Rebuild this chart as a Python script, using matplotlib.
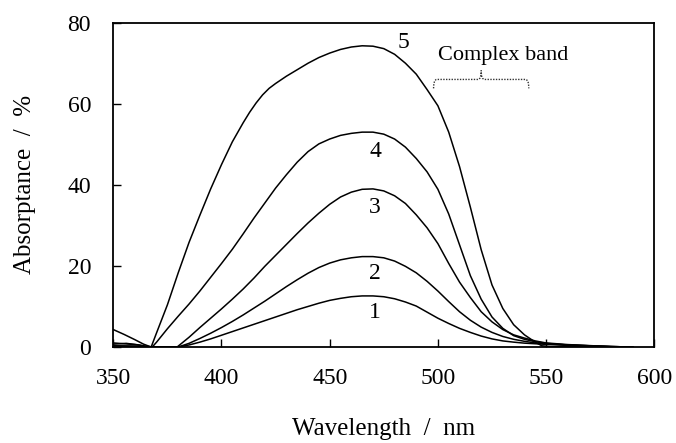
import numpy as np
import matplotlib
matplotlib.use("Agg")
import matplotlib.pyplot as plt
from matplotlib.path import Path
from matplotlib.patches import PathPatch

plt.rcParams.update({
    "font.family": "serif",
    "font.serif": ["Liberation Serif", "DejaVu Serif"],
    "mathtext.fontset": "stix",
})

# absorption spectra, wavelength (nm) vs absorptance (%)
wl_1 = [350, 360, 366, 380, 385, 390, 395, 400, 405, 410, 415, 420, 425, 430, 435,
        440, 445, 450, 455, 460, 465, 470, 475, 480, 485, 490, 495, 500, 505, 510,
        515, 520, 525, 530, 535, 540, 545, 550, 560, 570, 580, 590]
ab_1 = [0.3, 0.2, 0.0, 0.0, 0.5, 1.2, 2.0, 2.9, 3.8, 4.7, 5.6, 6.5, 7.4, 8.3, 9.2,
        10.0, 10.8, 11.5, 12.0, 12.4, 12.6, 12.6, 12.4, 11.9, 11.1, 10.1, 8.6, 7.1, 5.8, 4.6,
        3.6, 2.7, 2.0, 1.5, 1.2, 0.95, 0.8, 0.65, 0.4, 0.25, 0.1, 0.0]

wl_2 = [350, 360, 366, 380, 385, 390, 395, 400, 405, 410, 415, 420, 425, 430, 435,
        440, 445, 450, 455, 460, 465, 470, 475, 480, 485, 490, 495, 500, 505, 510,
        515, 520, 525, 530, 535, 540, 545, 550, 560, 570, 580, 590]
ab_2 = [0.3, 0.2, 0.0, 0.0, 0.9, 2.1, 3.4, 4.8, 6.3, 7.9, 9.6, 11.3, 13.1, 14.9, 16.6,
        18.2, 19.6, 20.7, 21.5, 22.0, 22.3, 22.3, 22.0, 21.2, 19.9, 18.3, 16.2, 13.8, 11.2, 8.7,
        6.6, 4.9, 3.6, 2.6, 1.9, 1.4, 1.0, 0.8, 0.5, 0.3, 0.1, 0.0]

wl_3 = [350, 356, 362, 366, 379.5, 385, 390, 395, 400, 405, 410, 415, 420, 425, 430,
        435, 440, 445, 450, 455, 460, 465, 470, 475, 480, 485, 490, 495, 500, 505,
        510, 515, 520, 525, 530, 535, 540, 545, 550, 560, 570, 580, 590]
ab_3 = [0.7, 0.9, 0.5, 0.0, 0.0, 2.4, 4.8, 7.1, 9.4, 11.8, 14.3, 17.0, 19.9, 22.6, 25.3,
        28.0, 30.6, 33.0, 35.2, 37.0, 38.2, 38.9, 39.0, 38.5, 37.3, 35.4, 32.6, 29.4, 25.5, 20.6,
        16.0, 12.2, 8.7, 6.2, 4.3, 3.0, 2.2, 1.5, 1.0, 0.6, 0.35, 0.1, 0.0]

wl_4 = [350, 355, 360, 364, 368, 370, 375, 380, 385, 390, 395, 400, 405, 410, 415,
        420, 425, 430, 435, 440, 445, 450, 455, 460, 465, 470, 475, 480, 485, 490,
        495, 500, 505, 510, 515, 520, 525, 530, 535, 540, 545, 550, 560, 570, 580, 590]
ab_4 = [1.0, 0.8, 0.6, 0.3, 0.0, 1.2, 4.5, 7.6, 10.6, 13.8, 17.2, 20.6, 24.1, 27.9, 31.8,
        35.5, 39.2, 42.5, 45.6, 48.2, 50.1, 51.3, 52.2, 52.7, 53.0, 53.0, 52.5, 51.3, 49.3, 46.5,
        43.2, 38.9, 32.8, 25.2, 17.6, 11.8, 7.4, 4.6, 2.8, 1.9, 1.3, 0.9, 0.5, 0.3, 0.1, 0.0]

wl_5 = [350, 355, 360, 364, 367.5, 370, 375, 380, 385, 390, 395, 400, 405, 410, 413,
        416, 419, 422, 425, 430, 435, 440, 445, 450, 455, 460, 465, 470, 475, 480,
        485, 490, 495, 500, 505, 510, 515, 520, 525, 530, 535, 540, 545, 548, 552,
        560, 580]
ab_5 = [4.3, 3.1, 1.8, 0.7, 0.0, 3.5, 10.4, 18.3, 25.8, 32.5, 39.0, 45.0, 50.6, 55.3, 57.9,
        60.2, 62.2, 63.8, 65.0, 66.8, 68.4, 70.0, 71.4, 72.5, 73.4, 74.0, 74.3, 74.2, 73.6, 72.2,
        70.0, 67.3, 63.5, 59.5, 53.0, 44.5, 34.5, 24.0, 15.3, 9.5, 5.5, 3.0, 1.2, 0.3, 0.1,
        0.05, 0.0]

series = [(wl_1, ab_1), (wl_2, ab_2), (wl_3, ab_3), (wl_4, ab_4), (wl_5, ab_5)]

# curve number labels (x, y in data units)
label_text = ["1", "2", "3", "4", "5"]
label_x = [471, 471, 471, 471, 484]
label_y = [8.6, 18.2, 34.5, 48.3, 75.0]

band_lo, band_hi = 498, 542  # extent of the complex band (nm)

x_ticks = [350, 400, 450, 500, 550, 600]
y_ticks = [0, 20, 40, 60, 80]

fig = plt.figure(figsize=(6.76, 4.43), dpi=100)
ax = fig.add_axes([0.1676, 0.2167, 0.8003, 0.7321])

for wl, ab in series:
    ax.plot(wl, ab, color="black", linewidth=1.1, solid_joinstyle="round")

for t, x, y in zip(label_text, label_x, label_y):
    ax.text(x, y, t, fontsize=17, ha="center", va="center")

# dotted curly brace over the complex band
y_end, y_line, y_tip = 63.8, 66.0, 68.2
mid = (band_lo + band_hi) / 2
d = 1.5
verts = [
    (band_lo, y_end), (band_lo, y_line), (band_lo + d, y_line),
    (mid - d, y_line), (mid, y_line), (mid, y_tip),
    (mid, y_line), (mid + d, y_line),
    (band_hi - d, y_line), (band_hi, y_line), (band_hi, y_end),
]
codes = [Path.MOVETO, Path.CURVE3, Path.CURVE3,
         Path.LINETO, Path.CURVE3, Path.CURVE3,
         Path.CURVE3, Path.CURVE3,
         Path.LINETO, Path.CURVE3, Path.CURVE3]
ax.add_patch(PathPatch(Path(verts, codes), facecolor="none", edgecolor="#333333",
                       linewidth=1.0, linestyle=(0, (1, 1))))
ax.text(530, 72.0, "Complex band", fontsize=16, ha="center", va="center")

ax.set_xlim(350, 600)
ax.set_ylim(0, 80)
ax.set_xticks(x_ticks)
ax.set_yticks(y_ticks)
ax.tick_params(direction="in", length=6, width=1.0, labelsize=17, top=False, right=False)
ax.tick_params(axis="y", pad=16)
ax.tick_params(axis="x", pad=15)
for s in ax.spines.values():
    s.set_linewidth(1.3)

ax.set_xlabel("Wavelength  /  nm", fontsize=18, labelpad=21)
ax.set_ylabel("Absorptance  /  %", fontsize=18, labelpad=23)

fig.savefig("out.png", dpi=100)
